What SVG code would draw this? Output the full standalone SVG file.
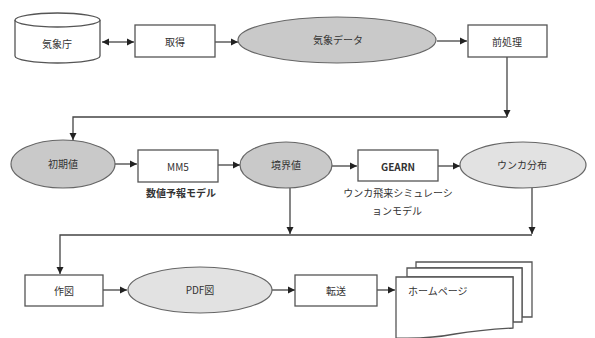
<svg xmlns="http://www.w3.org/2000/svg" width="595" height="338" viewBox="0 0 595 338">
<defs>
<marker id="ah" markerWidth="8" markerHeight="8" refX="7" refY="4" orient="auto" markerUnits="userSpaceOnUse">
<path d="M0,0.5 L7,4 L0,7.5 Z" fill="#222"/>
</marker>
<marker id="ahs" markerWidth="8" markerHeight="8" refX="1" refY="4" orient="auto" markerUnits="userSpaceOnUse">
<path d="M8,0.5 L1,4 L8,7.5 Z" fill="#222"/>
</marker>
</defs>
<style>
.box{fill:#fff;stroke:#555;stroke-width:1.3}
.ell{fill:#c9c9c9;stroke:#666;stroke-width:1.2}
.ell2{fill:#e2e2e2;stroke:#666;stroke-width:1.2}
.t{font-family:"Noto Sans CJK JP","Liberation Sans",sans-serif;font-size:10px;fill:#333;text-anchor:middle;dominant-baseline:central}
.b{font-weight:bold}
.c{fill:none;stroke:#444;stroke-width:1.3}
</style>
<rect width="595" height="338" fill="#fff"/>
<g id="connectors">
<line class="c" x1="102" y1="42" x2="134" y2="42" marker-start="url(#ahs)" marker-end="url(#ah)"/>
<line class="c" x1="215" y1="42" x2="238" y2="42" marker-end="url(#ah)"/>
<line class="c" x1="437" y1="41" x2="467" y2="41" marker-end="url(#ah)"/>
<polyline class="c" points="507,57 507,117" marker-end="url(#ah)"/>
<polyline class="c" points="507,117 73,117 73,140" marker-end="url(#ah)"/>
<line class="c" x1="115" y1="164" x2="137" y2="164" marker-end="url(#ah)"/>
<line class="c" x1="218" y1="165" x2="240" y2="165" marker-end="url(#ah)"/>
<line class="c" x1="332" y1="166" x2="357" y2="166" marker-end="url(#ah)"/>
<line class="c" x1="438" y1="166" x2="460" y2="166" marker-end="url(#ah)"/>
<polyline class="c" points="290,188 290,234" marker-end="url(#ah)"/>
<polyline class="c" points="532,188 532,234" marker-end="url(#ah)"/>
<polyline class="c" points="532,235 60,235 60,274" marker-end="url(#ah)"/>
<line class="c" x1="103" y1="290" x2="127" y2="290" marker-end="url(#ah)"/>
<line class="c" x1="272" y1="290" x2="295" y2="290" marker-end="url(#ah)"/>
<line class="c" x1="377" y1="290" x2="395" y2="290" marker-end="url(#ah)"/>
</g>
<g id="kishocho">
<path class="box" d="M15,20 A42.5,7 0 0,1 100,20 V56 A42.5,7 0 0,1 15,56 Z"/>
<path class="box" fill="none" d="M15,20 A42.5,7 0 0,0 100,20"/>
<text class="t" x="57" y="43">気象庁</text>
</g>
<g id="shutoku">
<rect class="box" x="135" y="25" width="80" height="32"/>
<text class="t" x="175" y="41">取得</text>
</g>
<g id="kishodata">
<ellipse class="ell" cx="337" cy="40" rx="99" ry="23"/>
<text class="t" x="338" y="39">気象データ</text>
</g>
<g id="maeshori">
<rect class="box" x="468" y="25" width="79" height="32"/>
<text class="t" x="507" y="41">前処理</text>
</g>
<g id="shokichi">
<ellipse class="ell" cx="63" cy="164" rx="52" ry="24"/>
<text class="t" x="63" y="163">初期値</text>
</g>
<g id="mm5">
<rect class="box" x="138" y="150" width="80" height="32"/>
<text class="t" x="178" y="166">MM5</text>
<text class="t b" x="181" y="192">数値予報モデル</text>
</g>
<g id="kyokaichi">
<ellipse class="ell" cx="286" cy="165" rx="46" ry="23"/>
<text class="t" x="286" y="164">境界値</text>
</g>
<g id="gearn">
<rect class="box" x="358" y="150" width="80" height="31"/>
<text class="t b" x="398" y="166">GEARN</text>
<text class="t" x="398" y="192">ウンカ飛来シミュレーシ</text>
<text class="t" x="397" y="210">ョンモデル</text>
</g>
<g id="unkabunpu">
<ellipse class="ell2" cx="523" cy="165" rx="63" ry="23"/>
<text class="t" x="522" y="164">ウンカ分布</text>
</g>
<g id="sakuzu">
<rect class="box" x="25" y="275" width="78" height="31"/>
<text class="t" x="64" y="290">作図</text>
</g>
<g id="pdfzu">
<ellipse class="ell2" cx="200" cy="290" rx="72" ry="23"/>
<text class="t" x="200" y="289">PDF図</text>
</g>
<g id="tenso">
<rect class="box" x="295" y="275" width="82" height="31"/>
<text class="t" x="336" y="290">転送</text>
</g>
<g id="homepage">
<path class="box" d="M416,262 H532 V317 H522 V268 H416 Z"/>
<path class="box" d="M407,268 H522 V322 H513 V277 H407 Z"/>
<path class="box" d="M396,277 H513 V328 Q480,330 455,334 Q430,339 396,338 Z"/>
<text class="t" x="408" y="290" style="text-anchor:start">ホームページ</text>
</g>
</svg>
